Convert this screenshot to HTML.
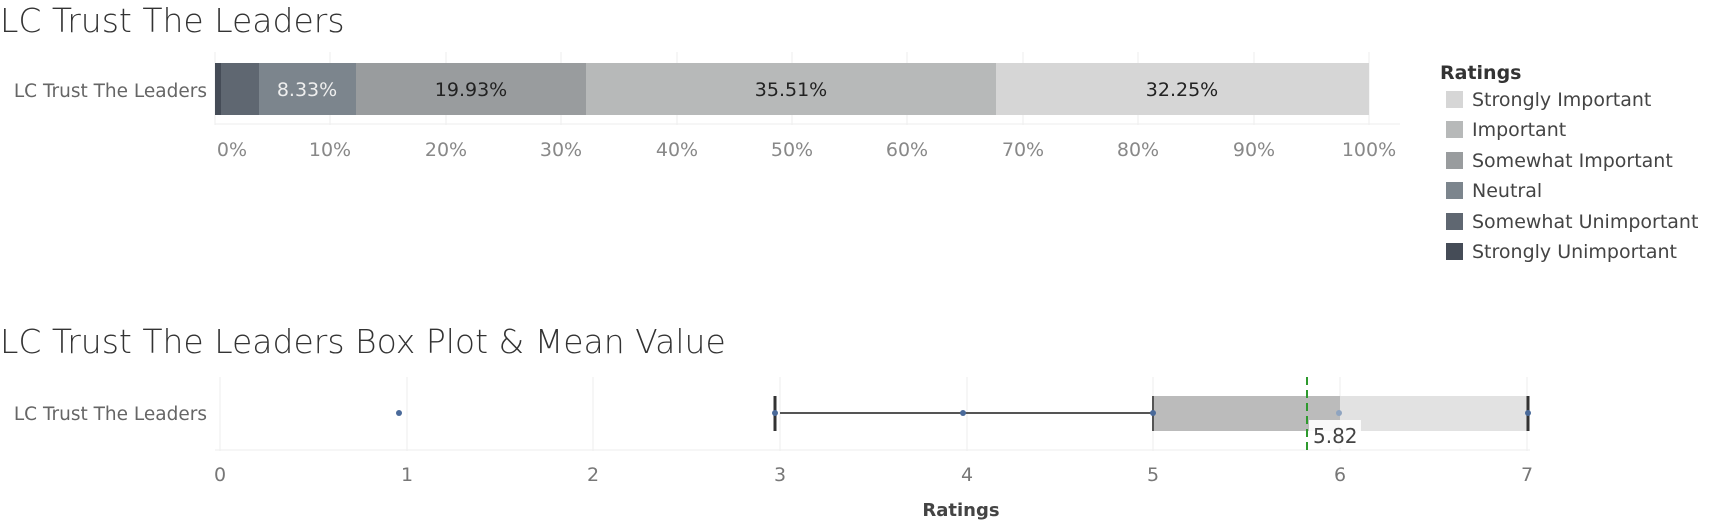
<!DOCTYPE html><html><head><style>
body{margin:0;width:1713px;height:525px;background:#fff;overflow:hidden;font-family:"DejaVu Sans","Liberation Sans",sans-serif}
</style></head><body>
<svg width="1713" height="525" xmlns="http://www.w3.org/2000/svg" font-family="DejaVu Sans, Liberation Sans, sans-serif">
<text x="0" y="32" font-size="33" fill="#333" font-weight="300">LC Trust The Leaders</text>
<text x="207" y="97" font-size="18.5" fill="#666" text-anchor="end">LC Trust The Leaders</text>
<g stroke="#eee">
<line x1="215" y1="52" x2="215" y2="125"/><line x1="330" y1="52" x2="330" y2="125"/><line x1="446" y1="52" x2="446" y2="125"/><line x1="561" y1="52" x2="561" y2="125"/><line x1="677" y1="52" x2="677" y2="125"/><line x1="792" y1="52" x2="792" y2="125"/><line x1="907" y1="52" x2="907" y2="125"/><line x1="1023" y1="52" x2="1023" y2="125"/><line x1="1138" y1="52" x2="1138" y2="125"/><line x1="1254" y1="52" x2="1254" y2="125"/><line x1="1369" y1="52" x2="1369" y2="125"/>
<line x1="215" y1="124" x2="1400" y2="124"/>
</g>
<rect x="215" y="63" width="6" height="52" fill="#454c57"/>
<rect x="221" y="63" width="38" height="52" fill="#5f6771"/>
<rect x="259" y="63" width="97" height="52" fill="#7c858d"/>
<rect x="356" y="63" width="230" height="52" fill="#999c9e"/>
<rect x="586" y="63" width="410" height="52" fill="#b7b9b9"/>
<rect x="996" y="63" width="373" height="52" fill="#d6d6d6"/>
<g font-size="19" text-anchor="middle">
<text x="307" y="96" fill="#eee">8.33%</text>
<text x="471" y="96" fill="#222">19.93%</text>
<text x="791" y="96" fill="#222">35.51%</text>
<text x="1182" y="96" fill="#222">32.25%</text>
</g>
<g font-size="19" fill="#888" text-anchor="middle">
<text x="232" y="156">0%</text><text x="330" y="156">10%</text><text x="446" y="156">20%</text><text x="561" y="156">30%</text><text x="677" y="156">40%</text><text x="792" y="156">50%</text><text x="907" y="156">60%</text><text x="1023" y="156">70%</text><text x="1138" y="156">80%</text><text x="1254" y="156">90%</text><text x="1369" y="156">100%</text>
</g>
<text x="1440" y="79" font-size="19" font-weight="bold" fill="#333">Ratings</text>
<g font-size="19" fill="#444">
<rect x="1446" y="91" width="17" height="17" fill="#d6d6d6"/><text x="1472" y="106">Strongly Important</text>
<rect x="1446" y="121" width="17" height="17" fill="#b7b9b9"/><text x="1472" y="136">Important</text>
<rect x="1446" y="152" width="17" height="17" fill="#999c9e"/><text x="1472" y="167">Somewhat Important</text>
<rect x="1446" y="182" width="17" height="17" fill="#7c858d"/><text x="1472" y="197">Neutral</text>
<rect x="1446" y="213" width="17" height="17" fill="#5f6771"/><text x="1472" y="228">Somewhat Unimportant</text>
<rect x="1446" y="243" width="17" height="17" fill="#454c57"/><text x="1472" y="258">Strongly Unimportant</text>
</g>
<text x="0" y="353" font-size="33" fill="#333" font-weight="300">LC Trust The Leaders Box Plot &amp; Mean Value</text>
<text x="207" y="420" font-size="18.5" fill="#666" text-anchor="end">LC Trust The Leaders</text>
<g stroke="#eee">
<line x1="220" y1="377" x2="220" y2="451"/><line x1="407" y1="377" x2="407" y2="451"/><line x1="593" y1="377" x2="593" y2="451"/><line x1="780" y1="377" x2="780" y2="451"/><line x1="967" y1="377" x2="967" y2="451"/><line x1="1153" y1="377" x2="1153" y2="451"/><line x1="1340" y1="377" x2="1340" y2="451"/><line x1="1527" y1="377" x2="1527" y2="451"/>
<line x1="215" y1="450" x2="1530" y2="450"/>
</g>
<rect x="1153" y="396" width="187" height="35" fill="#bbbbbb"/>
<rect x="1340" y="396" width="187" height="35" fill="#e2e2e2"/>
<line x1="780" y1="413" x2="1153" y2="413" stroke="#555" stroke-width="2"/>
<line x1="775" y1="396" x2="775" y2="431" stroke="#333" stroke-width="3"/>
<line x1="1153" y1="396" x2="1153" y2="431" stroke="#555" stroke-width="2"/>
<line x1="1528" y1="396" x2="1528" y2="431" stroke="#333" stroke-width="3"/>
<g fill="#4a6a9a"><circle cx="399" cy="413" r="3"/><circle cx="775" cy="413" r="3"/><circle cx="963" cy="413" r="3"/><circle cx="1153" cy="413" r="3"/><circle cx="1339" cy="413" r="3" fill="#8fa4c0"/><circle cx="1528" cy="413" r="3"/></g>
<rect x="1309" y="420" width="52" height="28" fill="#fff" opacity="0.9"/>
<line x1="1307" y1="377" x2="1307" y2="451" stroke="#2e9a2e" stroke-width="2" stroke-dasharray="8,5"/>
<text x="1313" y="443" font-size="20" fill="#444">5.82</text>
<g font-size="19" fill="#777" text-anchor="middle">
<text x="220" y="481">0</text><text x="407" y="481">1</text><text x="593" y="481">2</text><text x="780" y="481">3</text><text x="967" y="481">4</text><text x="1153" y="481">5</text><text x="1340" y="481">6</text><text x="1527" y="481">7</text>
</g>
<text x="961" y="516" font-size="18" font-weight="bold" fill="#444" text-anchor="middle">Ratings</text>
</svg>
</body></html>
